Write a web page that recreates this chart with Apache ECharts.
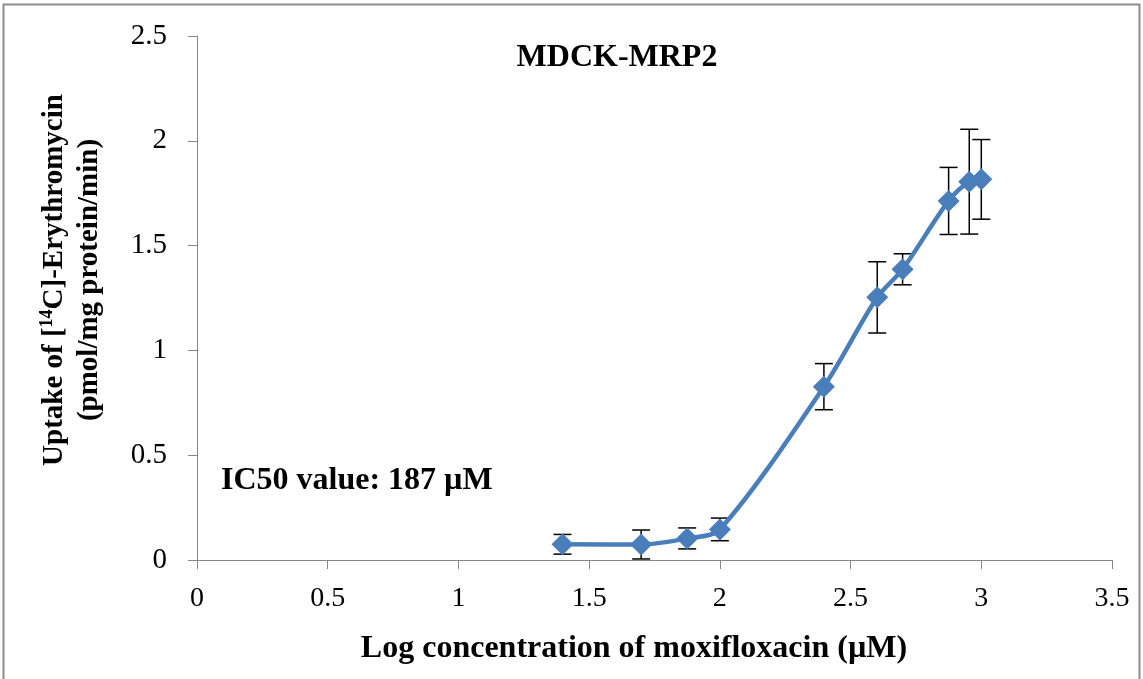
<!DOCTYPE html>
<html><head><meta charset="utf-8">
<script src="https://cdn.jsdelivr.net/npm/echarts@6/dist/echarts.min.js"></script>
<style>html,body{margin:0;padding:0;background:#fff}#c{width:1143px;height:679px}</style>
</head><body><div id="c"></div>
<script>
const logConc = [1.398, 1.699, 1.875, 2.0, 2.398, 2.602, 2.699, 2.875, 2.954, 3.0];
const uptake  = [0.075, 0.074, 0.103, 0.146, 0.827, 1.253, 1.387, 1.713, 1.805, 1.816];
const errBar  = [0.047, 0.069, 0.050, 0.054, 0.110, 0.170, 0.074, 0.160, 0.250, 0.190];
const xTicks = [0, 0.5, 1, 1.5, 2, 2.5, 3, 3.5];
const yTicks = [0, 0.5, 1, 1.5, 2, 2.5];

const F = '"Liberation Serif","Times New Roman",serif';
const pts = logConc.map((x, i) => [x, uptake[i]]);
const errs = logConc.map((x, i) => [x, uptake[i] - errBar[i], uptake[i] + errBar[i]]);

const chart = echarts.init(document.getElementById('c'));
chart.setOption({
  animation: false,
  backgroundColor: '#fff',
  grid: {left: 197, right: 31, top: 36, bottom: 119, containLabel: false},
  graphic: [
    {type: 'rect', shape: {x: 3.5, y: 4.5, width: 1136, height: 690}, style: {fill: 'none', stroke: '#8c8c8c', lineWidth: 2}},
    {type: 'text', x: 617, y: 58, style: {text: 'MDCK-MRP2', font: 'bold 32px ' + F, fill: '#000', align: 'center', verticalAlign: 'middle'}},
    {type: 'text', x: 221, y: 481, style: {text: 'IC50 value: 187 µM', font: 'bold 32px ' + F, fill: '#000', align: 'left', verticalAlign: 'middle'}},
    {type: 'text', x: 72, y: 280, rotation: Math.PI / 2,
      style: {
        text: '{b|Uptake of [}{sup|14}{b|C]-Erythromycin}\n{b|(pmol/mg protein/min)}',
        align: 'center', verticalAlign: 'middle',
        rich: {
          b: {font: 'bold 29px ' + F, fill: '#000', lineHeight: 35, align: 'center'},
          sup: {font: 'bold 18px ' + F, fill: '#000', padding: [0, 0, 14, 0]}
        }
      }
    },
    {type: 'text', x: 634, y: 649, style: {text: 'Log concentration of moxifloxacin (µM)', font: 'bold 32px ' + F, fill: '#000', align: 'center', verticalAlign: 'middle'}}
  ],
  xAxis: {
    type: 'value', min: 0, max: 3.5, interval: 0.5,
    axisLine: {show: true, onZero: false, lineStyle: {color: '#868686', width: 1}},
    axisTick: {show: true, length: 9, inside: false, lineStyle: {color: '#868686'}},
    splitLine: {show: false},
    axisLabel: {fontFamily: F, fontSize: 28, color: '#000', margin: 25,
      formatter: v => xTicks.includes(v) ? String(v) : ''}
  },
  yAxis: {
    type: 'value', min: 0, max: 2.5, interval: 0.5,
    axisLine: {show: true, lineStyle: {color: '#868686', width: 1}},
    axisTick: {show: true, length: 9, lineStyle: {color: '#868686'}},
    splitLine: {show: false},
    axisLabel: {fontFamily: F, fontSize: 29, color: '#000', margin: 30,
      formatter: v => yTicks.includes(v) ? String(v) : ''}
  },
  series: [
    {
      type: 'custom', z: 1,
      data: errs,
      renderItem: function (params, api) {
        const x = api.value(0);
        const lo = api.coord([x, api.value(1)]);
        const hi = api.coord([x, api.value(2)]);
        const w = 9;
        const st = {stroke: '#000', lineWidth: 1.5};
        return {type: 'group', children: [
          {type: 'line', shape: {x1: lo[0], y1: lo[1], x2: hi[0], y2: hi[1]}, style: st},
          {type: 'line', shape: {x1: lo[0] - w, y1: lo[1], x2: lo[0] + w, y2: lo[1]}, style: st},
          {type: 'line', shape: {x1: hi[0] - w, y1: hi[1], x2: hi[0] + w, y2: hi[1]}, style: st}
        ]};
      }
    },
    {
      type: 'line', z: 3, data: pts, smooth: 0.3,
      symbol: 'diamond', symbolSize: 22,
      lineStyle: {color: '#4a7ebb', width: 4.5},
      itemStyle: {color: '#4a7ebb'}
    }
  ]
});
</script></body></html>
